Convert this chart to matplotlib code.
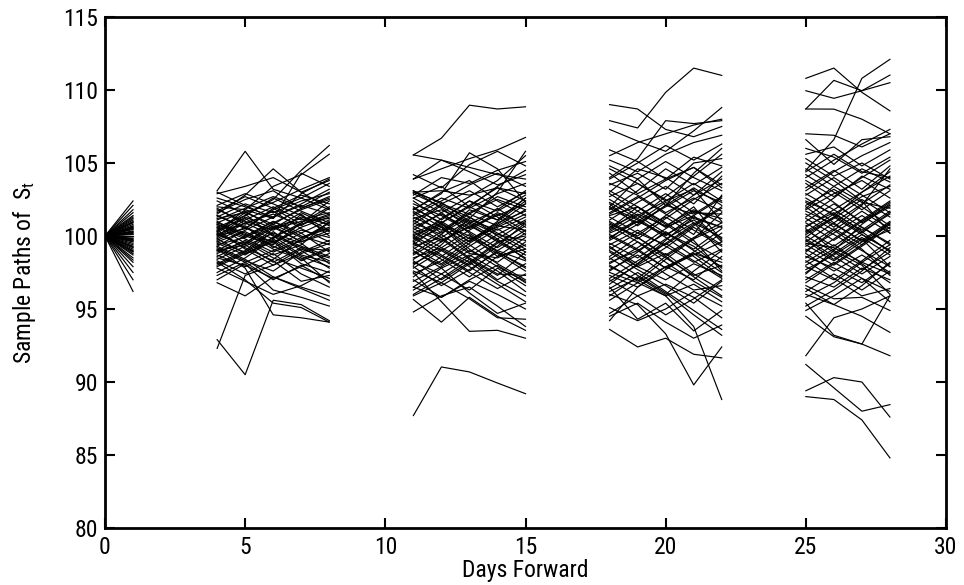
import matplotlib
matplotlib.use("Agg")
import matplotlib.pyplot as plt

plt.rcParams['font.family'] = ['Roboto Condensed', 'Archivo Narrow', 'Liberation Sans', 'DejaVu Sans']
plt.rcParams['mathtext.fontset'] = 'custom'
plt.rcParams['mathtext.rm'] = 'Roboto Condensed'
plt.rcParams['mathtext.it'] = 'Roboto Condensed'

# ---------------- data ----------------
start_value = 100.0
days_seg0 = [0, 1]
seg0_end = [102.4, 102.1, 101.8, 101.6, 101.4, 101.3, 101.2, 101.1, 101.0, 100.95, 100.9, 100.8,
            100.7, 100.65, 100.6, 100.5, 100.45, 100.35, 100.3, 100.25, 100.2, 100.1, 100.0, 99.95,
            99.85, 99.8, 99.75, 99.7, 99.6, 99.5, 99.4, 99.3, 99.25, 99.2, 99.1, 99.0,
            98.95, 98.9, 98.8, 98.7, 98.5, 98.35, 98.2, 97.9, 97.5, 97.0, 96.2, 100.55, 99.65, 100.15]

days_seg1 = [4, 5, 6, 7, 8]
seg1_paths = [
    [103.1, 105.8, 103.2, 102.6, 103.6],
    [101.5, 102.8, 104.6, 103.0, 103.8],
    [100.2, 101.4, 102.5, 104.5, 106.2],
    [102.0, 101.8, 103.4, 104.2, 105.6],
    [92.9, 90.5, 95.6, 95.3, 94.2],
    [92.3, 97.3, 98.0, 99.1, 98.5],
    [98.2, 97.0, 95.4, 95.1, 94.1],
    [99.1, 97.8, 94.6, 94.4, 94.1],
    [96.8, 95.9, 97.2, 96.5, 95.9],
    [97.0, 98.1, 96.3, 95.8, 95.2],
    [103.0, 102.1, 101.2, 104.3, 103.4],
    [102.9, 103.4, 104.0, 103.0, 101.9],
    [100.1, 99.4, 100.6, 101.2, 100.3],
    [99.8, 100.9, 101.5, 100.7, 101.9],
    [100.4, 101.2, 100.1, 99.3, 98.6],
    [99.5, 98.7, 99.9, 100.8, 101.4],
    [100.9, 100.2, 99.1, 98.4, 99.2],
    [101.3, 102.2, 101.6, 102.4, 102.9],
    [98.9, 99.6, 98.5, 97.8, 97.1],
    [100.0, 100.5, 101.9, 102.8, 102.2],
    [99.2, 98.3, 97.6, 98.9, 99.7],
    [101.8, 101.0, 100.4, 101.3, 100.8],
    [98.4, 99.3, 100.2, 99.5, 98.1],
    [100.6, 99.8, 98.9, 99.7, 100.9],
    [99.9, 101.1, 102.0, 101.1, 101.6],
    [101.0, 100.0, 101.0, 100.0, 99.4],
    [98.7, 97.9, 98.8, 97.4, 96.5],
    [100.3, 101.6, 100.8, 99.9, 100.5],
    [99.0, 100.0, 99.4, 100.9, 102.0],
    [101.6, 102.5, 103.1, 101.9, 102.6],
    [99.6, 98.9, 100.3, 99.0, 97.8],
    [100.8, 100.1, 99.6, 98.1, 97.5],
    [97.9, 98.8, 99.6, 100.4, 99.9],
    [100.5, 100.7, 99.2, 100.2, 101.1],
    [99.3, 100.4, 101.3, 102.1, 101.5],
    [102.4, 101.5, 100.0, 99.2, 99.0],
    [98.1, 99.0, 100.5, 101.6, 100.7],
    [100.2, 99.2, 98.3, 96.9, 97.3],
    [101.1, 101.9, 102.7, 102.0, 103.0],
    [99.7, 100.6, 99.8, 101.5, 100.0],
    [100.7, 99.5, 100.9, 101.8, 102.5],
    [98.5, 98.0, 97.1, 97.9, 98.8],
    [101.9, 100.8, 101.7, 100.5, 99.6],
    [99.4, 99.9, 101.0, 100.2, 98.9],
    [100.0, 101.3, 100.5, 101.0, 101.2],
    [97.5, 98.5, 99.8, 98.6, 97.9],
    [102.1, 102.9, 102.2, 101.4, 100.4],
    [99.1, 98.2, 99.0, 99.9, 100.6],
    [100.9, 101.7, 100.6, 99.6, 100.2],
    [98.8, 99.7, 98.7, 99.4, 101.0],
    [101.4, 100.5, 101.8, 102.6, 101.8],
    [99.6, 100.3, 99.3, 98.5, 96.8],
    [100.4, 99.1, 98.0, 98.8, 99.5],
    [98.3, 97.4, 98.4, 99.8, 100.9],
    [101.2, 101.6, 102.3, 103.2, 104.0],
    [97.8, 96.9, 96.0, 96.6, 97.6],
    [100.6, 101.4, 102.6, 101.7, 100.9],
    [99.3, 98.4, 97.2, 96.4, 95.6],
    [102.6, 102.0, 101.3, 102.2, 103.2],
    [98.6, 99.5, 100.7, 99.6, 100.4],
    [100.1, 100.9, 100.0, 98.7, 98.2],
    [101.7, 102.7, 101.9, 100.8, 101.5],
    [99.0, 99.4, 98.2, 99.2, 98.3],
    [100.8, 99.9, 100.8, 101.9, 102.7],
    [97.3, 98.2, 97.0, 98.0, 96.9],
    [101.4, 100.6, 99.5, 100.6, 101.3],
    [99.8, 98.8, 99.7, 98.3, 99.1],
    [100.3, 101.8, 101.2, 102.9, 103.9],
    [98.0, 98.9, 99.9, 100.9, 102.4],
]

days_seg2 = [11, 12, 13, 14, 15]
seg2_paths = [
    [105.55, 106.7, 108.96, 108.7, 108.85],
    [103.9, 104.6, 105.3, 105.9, 106.75],
    [105.55, 105.2, 104.7, 104.2, 103.9],
    [103.9, 105.2, 104.4, 103.5, 104.2],
    [101.8, 102.9, 105.7, 104.6, 102.3],
    [87.7, 91.03, 90.69, 89.93, 89.2],
    [97.5, 95.5, 93.47, 93.54, 93.0],
    [95.65, 94.1, 95.8, 94.5, 93.54],
    [94.8, 95.9, 96.5, 95.2, 93.8],
    [96.5, 97.8, 96.1, 94.7, 95.4],
    [103.0, 103.1, 102.8, 103.3, 102.9],
    [103.1, 101.9, 100.6, 101.4, 102.2],
    [102.8, 104.0, 103.6, 104.5, 105.1],
    [98.0, 99.4, 101.2, 103.0, 105.8],
    [100.2, 101.0, 99.8, 100.6, 101.5],
    [99.5, 98.6, 99.9, 98.8, 97.6],
    [101.3, 100.4, 101.6, 102.5, 101.8],
    [98.7, 99.8, 98.4, 97.3, 98.9],
    [100.8, 102.1, 101.3, 100.2, 99.1],
    [97.6, 96.8, 98.1, 99.5, 100.7],
    [102.2, 101.4, 100.3, 99.2, 100.4],
    [99.1, 100.3, 101.5, 102.7, 102.0],
    [101.7, 100.6, 99.4, 98.1, 97.0],
    [98.2, 97.4, 96.3, 97.8, 96.6],
    [100.5, 99.6, 100.9, 101.8, 103.1],
    [99.8, 101.2, 102.4, 101.3, 100.1],
    [96.9, 97.9, 99.0, 98.2, 99.6],
    [102.6, 103.4, 102.0, 101.1, 102.6],
    [100.0, 99.0, 97.9, 96.7, 95.5],
    [101.0, 102.2, 103.1, 102.0, 103.0],
    [98.9, 98.0, 99.3, 100.5, 99.3],
    [99.4, 100.8, 100.0, 99.0, 98.3],
    [97.2, 98.6, 97.5, 96.4, 97.4],
    [101.9, 100.9, 102.1, 103.3, 102.4],
    [100.6, 101.5, 100.5, 101.6, 100.8],
    [99.0, 97.8, 98.7, 97.6, 96.2],
    [102.9, 102.0, 100.9, 99.8, 101.0],
    [98.4, 99.6, 100.7, 99.7, 98.7],
    [100.3, 99.2, 98.2, 99.6, 100.0],
    [101.5, 102.6, 101.9, 102.9, 103.6],
    [96.0, 97.1, 98.4, 97.0, 98.1],
    [99.7, 100.9, 99.6, 100.8, 102.2],
    [103.0, 102.3, 101.0, 100.1, 99.7],
    [97.9, 96.6, 97.7, 98.9, 97.9],
    [100.9, 100.1, 98.8, 98.5, 99.4],
    [99.3, 99.9, 101.1, 100.4, 101.3],
    [101.2, 101.8, 100.8, 99.6, 98.5],
    [98.5, 99.2, 100.4, 101.5, 100.3],
    [102.4, 101.1, 102.4, 101.7, 102.8],
    [100.1, 100.7, 99.1, 97.9, 96.9],
    [97.4, 98.3, 99.7, 100.9, 101.7],
    [101.8, 103.0, 103.8, 102.4, 101.4],
    [99.6, 98.4, 97.2, 98.6, 99.9],
    [96.5, 95.8, 96.9, 96.0, 95.0],
    [100.7, 99.7, 100.6, 101.9, 100.6],
    [98.1, 99.1, 98.0, 99.3, 100.9],
    [104.2, 103.3, 104.9, 105.8, 104.8],
    [95.9, 96.8, 95.7, 94.4, 94.3],
    [102.0, 100.8, 99.6, 101.0, 102.4],
    [98.8, 100.1, 101.8, 101.1, 102.6],
    [101.4, 102.4, 103.5, 104.3, 103.4],
    [97.0, 95.8, 97.0, 98.0, 96.8],
    [100.4, 101.6, 100.2, 98.9, 97.8],
    [99.2, 98.1, 99.5, 100.7, 101.8],
    [102.6, 101.6, 102.7, 103.8, 105.5],
    [96.3, 97.4, 98.6, 99.8, 98.4],
    [101.1, 99.9, 98.5, 97.4, 97.3],
    [98.3, 97.0, 98.2, 96.9, 95.9],
    [100.0, 100.9, 102.0, 103.4, 104.5],
    [103.1, 102.2, 101.5, 100.7, 100.4],
    [99.9, 98.7, 97.6, 99.0, 100.2],
    [97.8, 99.0, 100.1, 98.6, 99.1],
    [101.6, 100.2, 101.3, 100.0, 98.9],
    [99.6, 100.6, 98.9, 100.1, 101.1],
]

days_seg3 = [18, 19, 20, 21, 22]
seg3_paths = [
    [109.0, 108.7, 107.3, 106.8, 107.5],
    [107.9, 107.4, 109.84, 111.5, 111.0],
    [107.3, 106.5, 105.8, 107.2, 108.8],
    [105.5, 106.4, 107.0, 107.6, 108.0],
    [104.0, 105.3, 107.9, 107.7, 107.9],
    [93.6, 92.4, 93.0, 91.9, 91.65],
    [96.0, 95.3, 93.3, 89.8, 92.4],
    [97.5, 96.8, 95.9, 93.8, 88.8],
    [94.7, 95.9, 96.7, 95.8, 94.4],
    [96.5, 94.3, 95.4, 93.5, 94.9],
    [94.2, 96.5, 97.9, 98.8, 97.5],
    [103.5, 104.3, 103.2, 105.0, 105.3],
    [102.0, 103.9, 105.1, 104.0, 103.1],
    [104.6, 103.6, 102.4, 103.2, 101.0],
    [100.3, 101.4, 100.2, 99.1, 100.5],
    [99.2, 98.1, 99.5, 100.8, 102.0],
    [101.6, 102.7, 101.5, 100.4, 99.3],
    [98.4, 99.6, 98.2, 96.9, 95.8],
    [100.9, 99.8, 101.2, 102.5, 103.6],
    [97.6, 98.9, 100.3, 99.0, 97.9],
    [102.3, 101.2, 100.0, 101.4, 102.6],
    [99.7, 100.8, 102.1, 103.3, 102.1],
    [100.1, 99.1, 97.8, 98.9, 100.2],
    [101.1, 102.3, 103.4, 102.2, 104.1],
    [98.9, 97.7, 96.6, 95.4, 96.9],
    [100.6, 101.5, 100.7, 101.8, 100.9],
    [96.9, 98.0, 99.2, 100.6, 99.4],
    [103.1, 102.0, 100.8, 99.5, 98.4],
    [99.4, 100.4, 99.3, 98.2, 99.1],
    [101.9, 100.9, 102.0, 103.1, 102.3],
    [98.1, 99.2, 100.5, 101.7, 101.2],
    [100.0, 99.0, 100.2, 99.3, 97.8],
    [102.7, 103.6, 102.5, 101.2, 100.6],
    [97.3, 96.5, 97.7, 98.8, 98.2],
    [100.4, 101.7, 102.9, 101.6, 101.5],
    [99.0, 97.9, 98.8, 97.4, 96.3],
    [101.3, 100.2, 99.4, 100.7, 101.9],
    [95.6, 96.8, 97.9, 97.0, 98.6],
    [100.8, 100.0, 101.4, 102.8, 104.4],
    [98.6, 99.9, 98.6, 99.8, 100.7],
    [102.0, 101.1, 99.9, 98.6, 97.2],
    [99.9, 101.0, 100.1, 101.1, 99.8],
    [97.9, 97.0, 95.9, 96.7, 95.5],
    [101.5, 102.6, 103.8, 104.7, 103.5],
    [99.5, 98.5, 99.8, 100.9, 99.9],
    [103.6, 102.8, 101.6, 102.6, 101.7],
    [98.2, 99.0, 97.8, 98.7, 99.6],
    [100.2, 101.0, 102.3, 100.9, 98.9],
    [96.4, 97.5, 96.2, 94.9, 93.6],
    [101.0, 99.9, 98.7, 99.9, 100.9],
    [99.1, 100.2, 101.3, 100.1, 102.8],
    [102.5, 101.4, 102.4, 103.6, 102.4],
    [97.1, 98.3, 99.5, 98.3, 97.1],
    [100.7, 99.6, 98.5, 97.3, 98.0],
    [105.2, 104.4, 105.6, 106.4, 106.9],
    [95.1, 94.2, 95.0, 96.2, 95.2],
    [103.0, 104.6, 104.0, 102.8, 103.9],
    [97.0, 95.9, 94.6, 95.7, 97.0],
    [104.3, 102.9, 103.9, 105.4, 104.8],
    [99.8, 101.2, 102.7, 104.1, 105.6],
    [96.2, 97.1, 98.6, 97.2, 95.9],
    [102.9, 101.7, 100.6, 102.0, 99.7],
    [98.5, 97.3, 96.1, 94.6, 93.2],
    [101.8, 103.1, 104.6, 103.5, 104.7],
    [94.5, 95.4, 94.1, 93.0, 93.9],
    [100.5, 102.0, 100.9, 99.7, 97.6],
    [103.9, 105.0, 106.2, 105.2, 106.3],
    [97.7, 98.7, 97.4, 96.3, 96.6],
    [102.2, 100.7, 102.1, 104.3, 106.0],
    [99.3, 97.9, 97.0, 98.1, 97.3],
    [105.9, 105.1, 103.9, 104.7, 103.3],
    [96.7, 98.1, 99.7, 101.3, 100.6],
    [101.4, 102.0, 100.6, 101.4, 99.6],
    [98.0, 96.9, 98.4, 99.8, 101.6],
    [104.8, 103.9, 102.1, 101.5, 102.7],
    [95.9, 97.2, 96.0, 97.6, 99.0],
]

days_seg4 = [25, 26, 27, 28]
seg4_paths = [
    [110.8, 111.5, 109.84, 108.57],
    [109.95, 109.43, 109.95, 111.02],
    [108.7, 110.66, 109.95, 110.5],
    [104.5, 106.6, 110.8, 112.1],
    [108.7, 108.69, 108.0, 107.0],
    [91.2, 89.6, 88.0, 88.45],
    [89.4, 90.3, 90.0, 87.6],
    [89.0, 88.8, 87.4, 84.8],
    [91.8, 94.4, 95.0, 95.9],
    [94.5, 93.1, 92.6, 91.8],
    [95.4, 93.2, 92.6, 95.9],
    [96.0, 95.3, 94.5, 93.4],
    [107.0, 106.9, 106.1, 107.0],
    [106.6, 104.9, 106.6, 106.8],
    [100.3, 101.5, 100.4, 101.7],
    [99.1, 98.0, 99.3, 100.6],
    [101.8, 102.9, 103.8, 102.6],
    [98.2, 99.4, 98.1, 96.8],
    [100.9, 99.7, 101.0, 102.3],
    [97.5, 98.8, 100.1, 99.0],
    [102.6, 101.4, 100.2, 101.6],
    [99.6, 100.9, 102.2, 103.5],
    [100.0, 98.9, 97.7, 98.9],
    [103.3, 104.5, 103.2, 104.8],
    [98.8, 97.6, 98.7, 97.5],
    [100.6, 101.8, 100.6, 99.4],
    [96.8, 98.1, 99.4, 100.9],
    [101.2, 100.1, 99.0, 97.9],
    [99.3, 100.5, 99.4, 100.8],
    [102.1, 103.2, 102.0, 100.7],
    [97.9, 97.0, 98.3, 99.7],
    [100.1, 101.2, 102.5, 101.3],
    [104.2, 103.0, 101.8, 103.1],
    [98.5, 99.8, 101.1, 102.4],
    [101.5, 100.4, 101.7, 100.5],
    [99.8, 98.6, 97.4, 98.6],
    [96.2, 97.4, 96.3, 97.6],
    [102.9, 101.8, 103.0, 104.1],
    [100.4, 99.3, 100.6, 99.5],
    [98.0, 99.1, 100.3, 101.5],
    [101.0, 102.2, 101.0, 102.1],
    [99.4, 98.3, 99.6, 100.4],
    [103.8, 102.7, 104.0, 105.2],
    [97.2, 96.5, 97.8, 97.0],
    [100.7, 101.6, 100.3, 98.9],
    [99.0, 100.2, 101.4, 100.2],
    [105.3, 104.1, 105.0, 103.9],
    [98.6, 97.8, 96.8, 98.1],
    [101.7, 100.8, 99.7, 101.0],
    [100.2, 101.3, 100.1, 99.0],
    [97.7, 98.7, 99.9, 98.7],
    [102.4, 101.5, 102.7, 103.4],
    [99.5, 99.2, 98.2, 99.4],
    [105.6, 106.1, 104.8, 105.9],
    [106.0, 105.4, 104.3, 105.4],
    [94.9, 95.9, 97.1, 96.2],
    [103.1, 104.4, 105.5, 106.4],
    [96.6, 95.7, 95.8, 94.9],
    [104.6, 103.4, 102.3, 101.9],
    [99.9, 101.3, 103.0, 104.4],
    [95.8, 96.8, 98.2, 97.4],
    [102.8, 104.0, 102.8, 101.6],
    [98.3, 97.1, 95.9, 96.4],
    [104.0, 105.2, 106.3, 107.3],
    [97.0, 98.2, 97.1, 95.5],
    [101.3, 102.6, 104.1, 103.2],
    [105.0, 103.8, 102.4, 100.2],
    [98.9, 100.4, 99.1, 97.3],
    [102.0, 100.6, 102.1, 104.6],
    [96.4, 95.3, 96.6, 98.2],
    [103.6, 102.3, 100.9, 102.0],
    [100.5, 99.0, 98.0, 96.0],
    [101.9, 103.4, 104.6, 103.7],
    [97.4, 99.0, 100.8, 102.2],
    [104.4, 105.6, 104.4, 104.0],
    [99.7, 98.4, 99.8, 97.9],
    [102.3, 100.9, 99.6, 100.9],
    [95.2, 96.3, 97.6, 99.2],
]

x_ticks = [0, 5, 10, 15, 20, 25, 30]
y_ticks = [80, 85, 90, 95, 100, 105, 110, 115]

# ---------------- figure ----------------
fig = plt.figure(figsize=(9.64, 5.85), dpi=100)
ax = fig.add_axes([105 / 964, 1 - 528 / 585, (946 - 105) / 964, (528 - 17) / 585])

lw = 0.85
for v in seg0_end:
    ax.plot(days_seg0, [start_value, v], color='black', lw=lw)
for days, paths in [(days_seg1, seg1_paths), (days_seg2, seg2_paths),
                    (days_seg3, seg3_paths), (days_seg4, seg4_paths)]:
    for p in paths:
        ax.plot(days, p, color='black', lw=lw)

ax.set_xlim(0, 30)
ax.set_ylim(80, 115)
ax.set_xticks(x_ticks)
ax.set_yticks(y_ticks)
ax.set_xticklabels([str(t) for t in x_ticks])
ax.set_yticklabels([str(t) for t in y_ticks])
ax.tick_params(direction='in', length=7, width=1.5, top=True, right=True,
               labelsize=17)
ax.tick_params(axis='x', pad=6)
ax.tick_params(axis='y', pad=5)
for s in ax.spines.values():
    s.set_linewidth(2.0)

ax.set_xlabel('Days Forward', fontsize=17, labelpad=0)
ax.set_ylabel(r'Sample Paths of  $\mathrm{S}_\mathrm{t}$', fontsize=17, labelpad=18)

fig.savefig('out.png', dpi=100)
